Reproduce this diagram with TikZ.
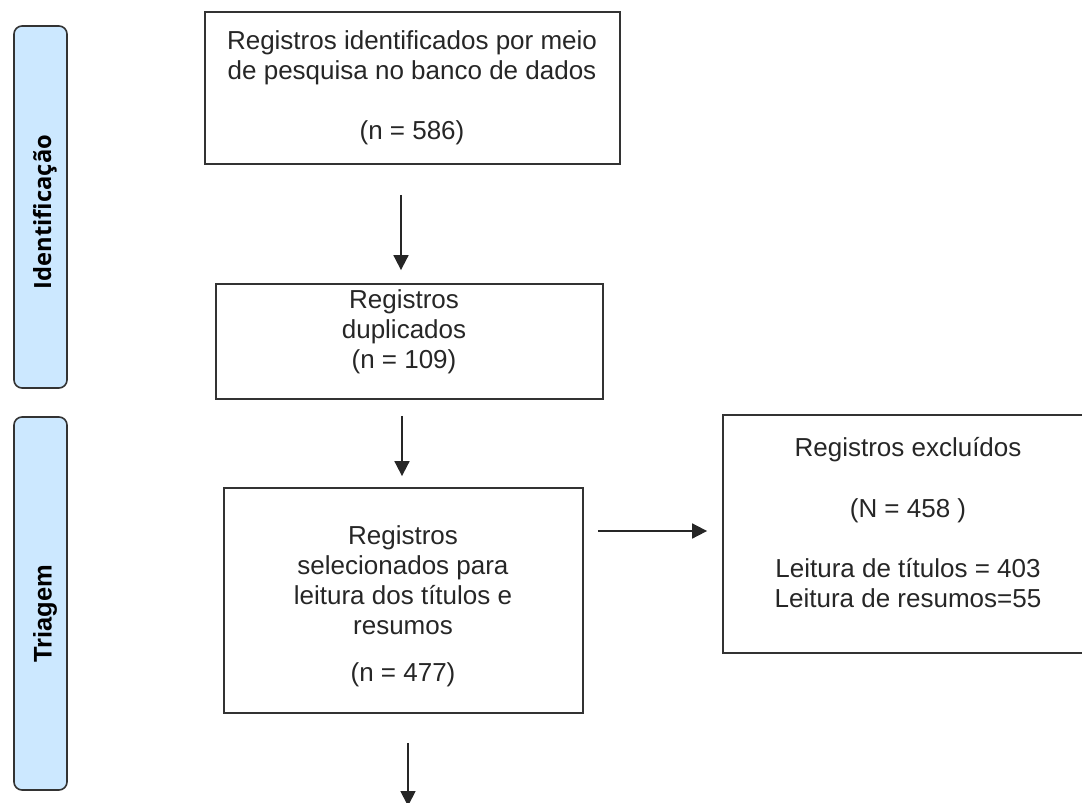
\documentclass[tikz,border=0pt]{standalone}
\usepackage{fontspec}
\setmainfont{Liberation Sans}
\newfontfamily\labfontA{Open Sans}
\newfontfamily\labfontB{Liberation Sans}
\usetikzlibrary{arrows.meta,calc}
\definecolor{sidefill}{HTML}{CCE8FF}
\definecolor{lineclr}{HTML}{333333}
\definecolor{txtclr}{HTML}{262626}
\begin{document}
\begin{tikzpicture}[x=1pt,y=-1pt,
  stagebox/.style={draw=lineclr,line width=1.6pt,fill=sidefill,rounded corners=8pt,inner sep=0pt},
  flowbox/.style={draw=lineclr,line width=1.8pt,inner sep=0pt},
  boxtext/.style={text=txtclr,align=center,inner sep=0pt,font=\fontsize{26}{30}\selectfont},
  arr/.style={draw=black!85,line width=1.8pt,-{Triangle[width=15pt,length=15pt]}}]
\useasboundingbox (0,0) rectangle (1082,803);
\begin{scope}
\clip (0,0) rectangle (1082,803);
% stage labels
\node[stagebox,minimum width=53pt,minimum height=362pt] (s1) at (40.5,207) {};
\node[rotate=90,text=black,font=\labfontA\bfseries\fontsize{23.7}{28}\selectfont] (s1t) at (45,212) {Identificação};
\node[stagebox,minimum width=53pt,minimum height=373pt] (s2) at (40.5,603.5) {};
\node[rotate=90,text=black,font=\labfontB\bfseries\fontsize{25.5}{28}\selectfont] (s2t) at (45,614) {Triagem};
% flow boxes
\node[flowbox,minimum width=415pt,minimum height=152pt] (b1) at (412.5,88) {};
\node[boxtext] (b1t) at (412,88) {Registros identificados por meio\\de pesquisa no banco de dados\\[30pt](n = 586)};
\node[flowbox,minimum width=387pt,minimum height=115pt] (b2) at (409.5,341.5) {};
\node[boxtext] (b2t) at (404,332) {Registros\\duplicados\\(n = 109)};
\node[flowbox,minimum width=359pt,minimum height=225pt] (b3) at (403.5,600.5) {};
\node[boxtext] (b3t) at (403,606) {Registros\\selecionados para\\leitura dos títulos e\\resumos\\[17pt](n = 477)};
\node[flowbox,minimum width=374pt,minimum height=238pt] (b4) at (910,534) {};
\node[boxtext] (b4t) at (908,522.5) {Registros excluídos\\[31pt](N = 458 )\\[30pt]Leitura de títulos = 403\\Leitura de resumos=55};
% connector helpers
\coordinate (c1) at (401,0);
\coordinate (c2) at (402,0);
\coordinate (c3) at (0,531);
\coordinate (c4) at (408,0);
\coordinate (end4) at (408,806);
\draw[arr,shorten <=30pt,shorten >=13pt] (b1.south -| c1) -- (b2.north -| c1);
\draw[arr,shorten <=16pt,shorten >=11pt] (b2.south -| c2) -- (b3.north -| c2);
\draw[arr,shorten <=14pt,shorten >=15pt] (b3.east |- c3) -- (b4.west |- c3);
\draw[arr,shorten <=29pt] (b3.south -| c4) -- (end4);
\end{scope}
\end{tikzpicture}
\end{document}
